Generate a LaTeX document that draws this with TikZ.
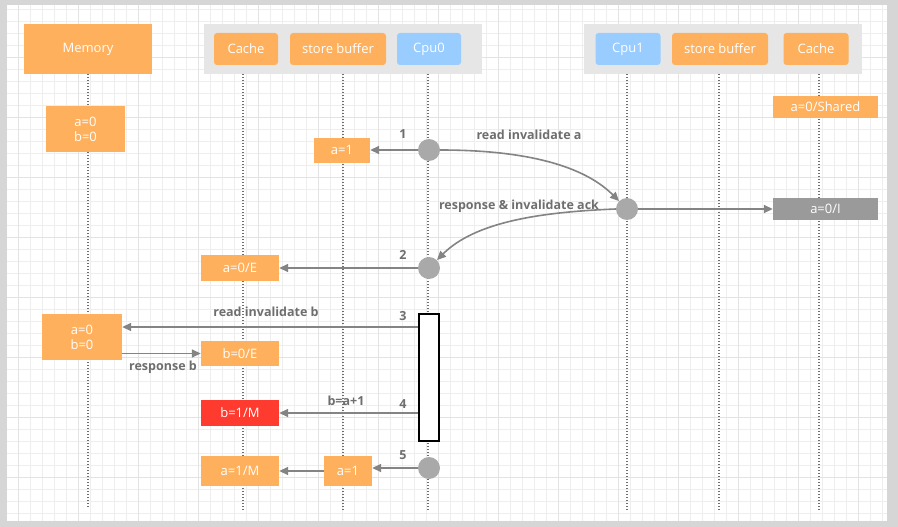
\documentclass[tikz,border=0pt]{standalone}
\usepackage{fontspec}
\setmainfont{Open Sans}
\usetikzlibrary{arrows.meta}
\definecolor{boxorange}{HTML}{FFB05C}
\definecolor{boxblue}{HTML}{99CCFF}
\definecolor{boxred}{HTML}{FF3B2F}
\definecolor{boxgray}{HTML}{9A9A9A}
\definecolor{msggray}{HTML}{848484}
\definecolor{labgray}{HTML}{6E6E6E}
\definecolor{panelgray}{HTML}{E6E6E6}
\newcommand {\boxfont} {\fontsize{13}{15}\selectfont}

\begin{document}
\begin{tikzpicture}[x=1pt,y=-1pt,
    obox/.style={fill=boxorange,text=white,inner sep=0pt,font=\boxfont,align=center},
    head/.style={obox,rounded corners=3pt,minimum height=32pt},
    lifeline/.style={labgray,line width=1.2pt,dash pattern=on 1.4pt off 1.6pt},
    dot/.style={circle,fill=boxgray!85,minimum size=22pt,inner sep=0pt},
    msg/.style={msggray,line width=1.6pt,-{Triangle[length=9pt,width=8pt]}},
    lab/.style={text=labgray,font=\fontsize{12.5}{14}\selectfont\bfseries}]
	\useasboundingbox (0,0) rectangle (898,527);
	\fill[gray!32] (0,0) rectangle (898,527);
	\fill[white] (7,5) rectangle (887,521);
	\foreach \gx in {18,30,...,886} \draw[gray!13,line width=0.6pt] (\gx,5) -- (\gx,521);
	\foreach \gy in {9,21,...,520} \draw[gray!13,line width=0.6pt] (7,\gy) -- (887,\gy);
	\foreach \gx in {18,78,...,886} \draw[gray!22,line width=0.8pt] (\gx,5) -- (\gx,521);
	\foreach \gy in {57,117,...,520} \draw[gray!22,line width=0.8pt] (7,\gy) -- (887,\gy);

	\fill[panelgray] (204,24) rectangle (482,74);
	\fill[panelgray] (584,24) rectangle (862,74);
	\node[obox,minimum width=128pt,minimum height=50pt] (memory) at (88,49) {Memory};
	\node[head,minimum width=64pt] (cacheL) at (246,49) {Cache};
	\node[head,minimum width=96pt] (sbufL) at (338,49) {store buffer};
	\node[head,fill=boxblue,minimum width=64pt] (cpuA) at (429,49) {Cpu0};
	\node[head,fill=boxblue,minimum width=65pt] (cpuB) at (628,49) {Cpu1};
	\node[head,minimum width=96pt] (sbufR) at (720,49) {store buffer};
	\node[head,minimum width=65pt] (cacheR) at (816,49) {Cache};

	\draw[lifeline] (88,74) -- (88,508);
	\draw[lifeline] (243,74) -- (243,510);
	\draw[lifeline] (343,74) -- (343,510);
	\draw[lifeline] (428,74) -- (428,510);
	\draw[lifeline] (627,74) -- (627,510);
	\draw[lifeline] (719,74) -- (719,510);
	\draw[lifeline] (819,74) -- (819,510);

	\node[obox,minimum width=79pt,minimum height=46pt] (memA) at (85.5,129) {a=0\\b=0};
	\node[obox,minimum width=56pt,minimum height=25pt] (aone) at (342,150) {a=1};
	\node[obox,minimum width=105pt,minimum height=22pt] (shared) at (825.5,107) {a=0/Shared};
	\node[obox,fill=boxgray,minimum width=105pt,minimum height=22pt] (ainv) at (825.5,209) {a=0/I};
	\node[obox,minimum width=78pt,minimum height=26pt] (aexcl) at (240,268) {a=0/E};
	\node[obox,minimum width=80pt,minimum height=46pt] (memB) at (82,337) {a=0\\b=0};
	\node[obox,minimum width=78pt,minimum height=25pt] (bexcl) at (240,353.5) {b=0/E};
	\node[obox,fill=boxred,minimum width=78pt,minimum height=26pt] (bmod) at (240,413) {b=1/M};
	\node[obox,minimum width=78pt,minimum height=30pt] (amod) at (240,471) {a=1/M};
	\node[obox,minimum width=48pt,minimum height=30pt] (aonebuf) at (348,471) {a=1};

	\node[draw=black,fill=white,line width=1.6pt,minimum width=20pt,minimum height=127pt,inner sep=0pt] (act) at (429,377.5) {};
	\node[dot] (cA) at (429,150) {};
	\node[dot] (cB) at (627,209) {};
	\node[dot] (cC) at (429,268) {};
	\node[dot] (cD) at (429,468) {};

	\draw[msg] (cA) -- (aone);
	\draw[msg] (cA.east) .. controls (515,150) and (580,162) .. (cB);
	\draw[msg] (cB) -- (ainv);
	\draw[msg] (cB.west) .. controls (540,212) and (475,222) .. (cC);
	\draw[msg] (cC) -- (aexcl);
	\draw[msg] (act.west |- 0,327) -- (memB.east |- 0,327);
	\draw[msg] (memB.east |- bexcl) -- (bexcl);
	\draw[msg] (act.west |- bmod) -- (bmod);
	\draw[msg] (cD) -- (aonebuf.east |- cD);
	\draw[msg] (aonebuf) -- (amod);

	\node[lab] (nA) at (403,134) {1};
	\node[lab] (tA) at (529,135) {read invalidate a};
	\node[lab] (tB) at (519,206) {response \& invalidate ack};
	\node[lab] (nB) at (403,255) {2};
	\node[lab] (tC) at (266,312) {read invalidate b};
	\node[lab] (nC) at (403,316) {3};
	\node[lab] (tD) at (163,367) {response b};
	\node[lab] (tE) at (346,401) {b=a+1};
	\node[lab] (nD) at (403,404) {4};
	\node[lab] (nE) at (403,455) {5};
\end{tikzpicture}
\end{document}
